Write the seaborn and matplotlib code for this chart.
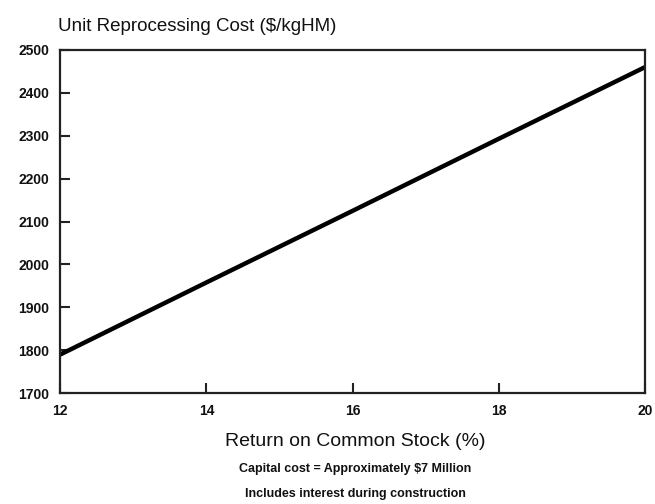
import matplotlib
matplotlib.use("Agg")
import matplotlib.pyplot as plt
import seaborn as sns
import pandas as pd

# Unit reprocessing cost versus return on common stock
return_pct = [12, 14, 16, 18, 20]
unit_cost = [1790, 1958, 2125, 2293, 2460]
x_ticks = [12, 14, 16, 18, 20]
y_ticks = [1700, 1800, 1900, 2000, 2100, 2200, 2300, 2400, 2500]

sns.set_theme(style="white")
plt.rcParams["font.family"] = ["Liberation Sans", "DejaVu Sans"]

df = pd.DataFrame({"ret": return_pct, "cost": unit_cost})

fig = plt.figure(figsize=(6.55, 5.04), dpi=100)
ax = fig.add_axes([0.092, 0.220, 0.893, 0.681])

sns.lineplot(data=df, x="ret", y="cost", ax=ax, color="black", linewidth=3.2)

ax.set_xlim(12, 20)
ax.set_ylim(1700, 2500)
ax.set_xticks(x_ticks)
ax.set_yticks(y_ticks)
ax.set_xticklabels([str(t) for t in x_ticks], fontsize=10, fontweight="bold")
ax.set_yticklabels([str(t) for t in y_ticks], fontsize=10, fontweight="bold")
ax.tick_params(axis="both", which="major", bottom=True, left=True,
               top=False, right=False, direction="in", length=7, width=1.5,
               color="#222222", labelcolor="#111111")
ax.tick_params(axis="x", pad=8)
ax.tick_params(axis="y", pad=8)
for s in ax.spines.values():
    s.set_visible(True)
    s.set_color("#222222")
    s.set_linewidth(1.6)

ax.set_xlabel("")
ax.set_ylabel("")

fig.text(0.089, 0.947, "Unit Reprocessing Cost ($/kgHM)", fontsize=13.5,
         ha="left", va="center", color="#111111")
fig.text(0.542, 0.124, "Return on Common Stock (%)", fontsize=14,
         ha="center", va="center", color="#111111")
fig.text(0.542, 0.070, "Capital cost = Approximately $7 Million", fontsize=9,
         ha="center", va="center", color="#111111", fontweight="bold")
fig.text(0.542, 0.020, "Includes interest during construction", fontsize=9,
         ha="center", va="center", color="#111111", fontweight="bold")

fig.savefig("out.png", dpi=100, facecolor="white")
